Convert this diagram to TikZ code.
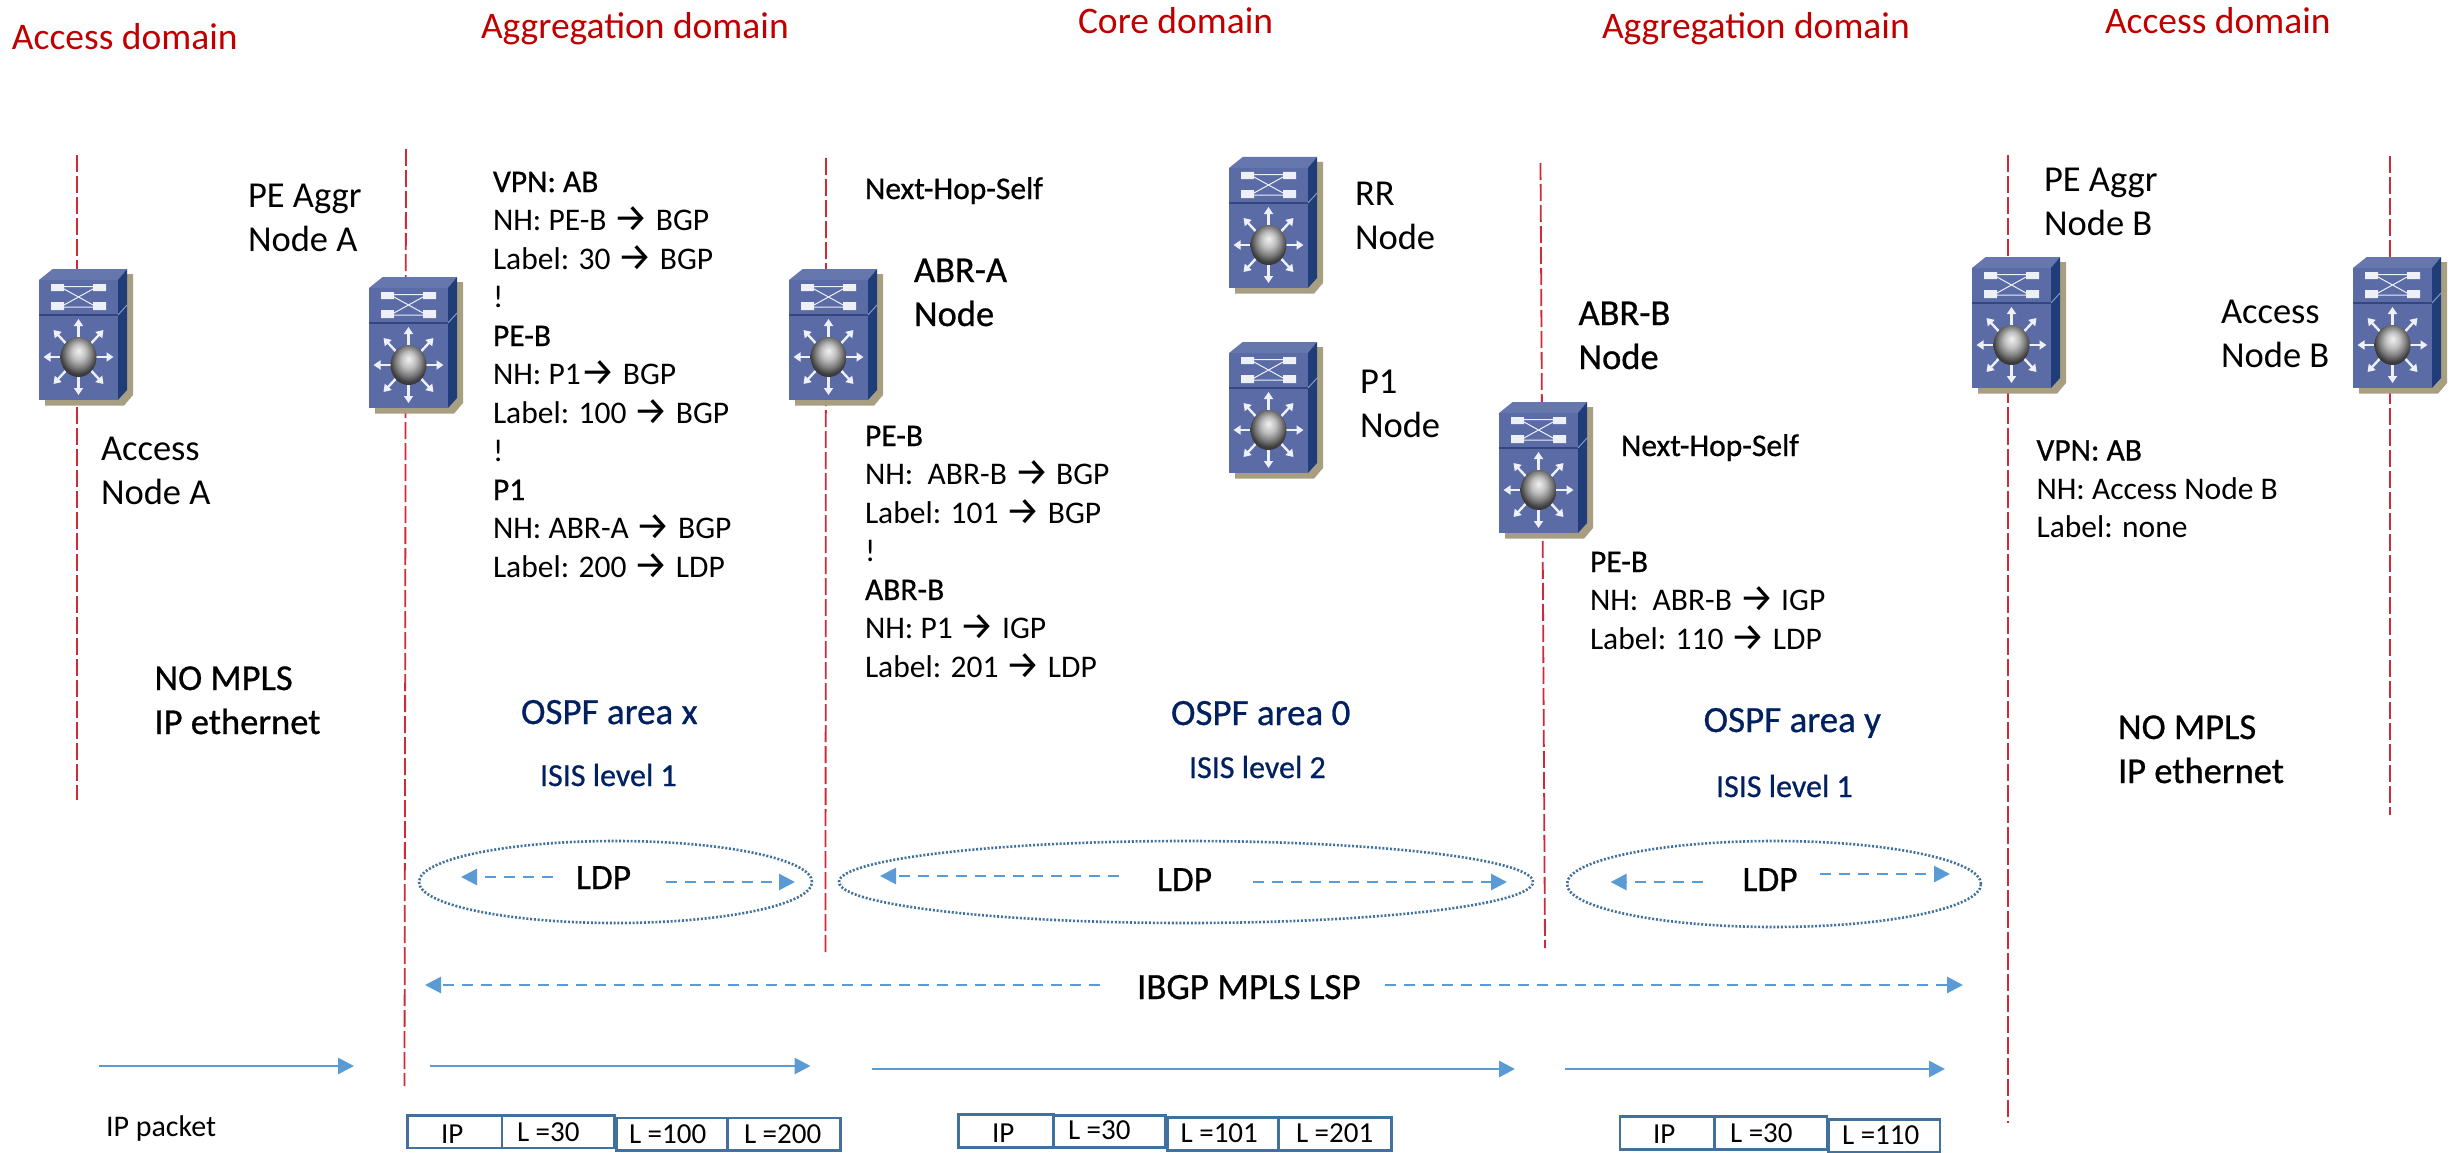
\documentclass[tikz,border=0pt]{standalone}
\usepackage{fontspec}
\setmainfont{Carlito}
\newfontfamily\shfont{Carlito}[FakeBold=0.7]
\newfontfamily\arrf{Fira Sans}
\usetikzlibrary{arrows.meta,shapes.geometric}
\definecolor{redline}{HTML}{CF2A3A}
\definecolor{headred}{HTML}{C00000}
\definecolor{navy}{HTML}{002060}
\definecolor{flow}{HTML}{5B9BD5}
\definecolor{boxblue}{HTML}{41719C}
\definecolor{rfront}{HTML}{5A6BA6}
\definecolor{rtop}{HTML}{6677AE}
\definecolor{rside}{HTML}{1F3D78}
\definecolor{rshadow}{HTML}{A89F82}
\definecolor{rdiv}{HTML}{35467F}
\definecolor{rwhite}{HTML}{EEF0F8}
\pgfdeclareradialshading{rball}{\pgfpoint{0bp}{8bp}}{
  color(0bp)=(white!95!black);
  color(10bp)=(white!75!black);
  color(18bp)=(white!50!black);
  color(25bp)=(black!75);
  color(32bp)=(black!85);
  color(50bp)=(black!85)}
\newcommand{\arr}{\raisebox{-1.2pt}{\arrf\fontsize{39}{39}\selectfont\char"2192}}
\tikzset{
  txt/.style={anchor=base west,inner sep=0pt,outer sep=0pt},
  big/.style={txt,align=left,font=\fontsize{36.5}{44}\selectfont},
  bigsh/.style={txt,align=left,font=\shfont\fontsize{36.5}{44}\selectfont},
  block/.style={txt,align=left,font=\fontsize{31.5}{38.5}\selectfont},
  shline/.style={txt,font=\shfont\fontsize{31.5}{38}\selectfont},
  head/.style={txt,text=headred,font=\fontsize{37.5}{44}\selectfont},
  ospf/.style={txt,text=navy,font=\shfont\fontsize{37}{44}\selectfont},
  isis/.style={txt,text=navy,font=\shfont\fontsize{32}{40}\selectfont},
  pkt/.style={txt,font=\fontsize{29}{35}\selectfont},
  redlane/.style={draw=redline,line width=1.8pt,dash pattern=on 17pt off 4pt},
  oval/.style={draw=boxblue,line width=2.6pt,dash pattern=on 2pt off 1.8pt},
  solidflow/.style={draw=flow,line width=2.8pt,-{Triangle[length=16pt,width=16pt]}},
  dashflow/.style={draw=flow,line width=2.8pt,dash pattern=on 11pt off 8pt,-{Triangle[length=16pt,width=16pt]}},
  pktbox/.style={draw=boxblue,line width=2.6pt,rectangle,inner sep=0pt,anchor=north west},
  rarrow/.style={draw=rwhite,line width=2.4pt,-{Triangle[length=7pt,width=9pt]}}
}
\newcommand{\lane}[4]{\coordinate (#1s) at (#2,#3);\coordinate (#1e) at (#2,#4);\draw[redlane] (#1s) -- (#1e);}
\newcommand{\lanex}[5]{\coordinate (#1s) at (#2,#3);\coordinate (#1e) at (#4,#5);\draw[redlane] (#1s) -- (#1e);}
\newcommand{\flowarrow}[6]{\coordinate (#2s) at (#3,#4);\coordinate (#2e) at (#5,#6);\draw[#1] (#2s) -- (#2e);}
\newcommand{\pbox}[8]{\node[pktbox,minimum width=#4pt-#2pt,minimum height=#5pt-#3pt] (#1) at (#2,#3) {};\node[pkt] (#1t) at (#7,#8) {#6};}
\newcommand{\router}[3]{%
\begin{scope}[shift={(#2,#3)}]
  \fill[rshadow] (6,120) -- (6,136.7) -- (85,136.7) -- (94,126) -- (94,5) -- (80,5) -- cycle;
  \fill[rtop] (0,11) -- (13.7,0) -- (88,0) -- (79,11) -- cycle;
  \fill[rside] (79,11) -- (88,0) -- (88,121) -- (79,131) -- cycle;
  \fill[rfront] (0,11) rectangle (79,131);
  \draw[rdiv,line width=1.6pt] (0,46) -- (79,46);
  \draw[rfront!70!white,line width=1pt] (79,46) -- (88,36);
  \fill[rwhite] (12,15) rectangle (25,22) (54,15) rectangle (67,22) (12,33) rectangle (25,41) (54,33) rectangle (67,41);
  \draw[rwhite,line width=1pt] (25,17.5) -- (54,17.5) (25,38) -- (54,38) (25,20) -- (54,36) (25,36) -- (54,20);
  \foreach \dx/\dy in {0/-38,0/38,-35/0,35/0,-25/-27,25/-27,-25/27,25/27}{
    \draw[rarrow] (39.5+0.4*\dx,88+0.4*\dy) -- (39.5+\dx,88+\dy);
  }
  \shade[shading=rball] (39.5,88) ellipse [x radius=18,y radius=20];
  \node[inner sep=0pt,minimum width=88pt,minimum height=131pt] (#1) at (44,65.5) {};
\end{scope}}
\begin{document}
\begin{tikzpicture}[x=1pt,y=-1pt]
\useasboundingbox (0,0) rectangle (2458,1153);
\fill[white] (0,0) rectangle (2458,1153);
% lanes
\lane{la}{77}{155}{800}
\lanex{lb}{406}{149}{404.5}{1086}
\lanex{lc}{826}{158}{825.5}{956}
\lanex{ld}{1540.5}{163}{1545}{948}
\lane{le}{2008}{155}{1123}
\lane{lf}{2390}{156}{815}
% headings
\node[head] (h1) at (12,50) {Access domain};
\node[head] (h2) at (481,39) {Aggregation domain};
\node[head] (h3) at (1078,34) {Core domain};
\node[head] (h4) at (1602,39) {Aggregation domain};
\node[head] (h5) at (2105,34) {Access domain};
% routers
\router{accA}{39}{269}
\router{peA}{369}{277}
\router{abrA}{789}{269}
\router{rr}{1229}{157}
\router{pone}{1229}{342}
\router{abrB}{1499}{402}
\router{peB}{1972}{257}
\router{accB}{2353}{257}
% node labels
\node[big] (tpeA) at (248,251) {PE Aggr\\Node A};
\node[big] (taccA) at (101,504) {Access\\Node A};
\node[bigsh] (tabrA) at (914,326) {ABR-A\\Node};
\node[big] (trr) at (1355,249) {RR\\Node};
\node[big] (tpone) at (1360,437.5) {P1\\Node};
\node[bigsh] (tabrB) at (1578.5,369) {ABR-B\\Node};
\node[big] (tpeB) at (2044,235) {PE Aggr\\Node B};
\node[big] (taccB) at (2221,367) {Access\\Node B};
\node[shline] (nhsA) at (865,199) {Next-Hop-Self};
\node[shline] (nhsB) at (1621,456) {Next-Hop-Self};
% blocks
\node[block] (bA) at (493,577) {{\shfont VPN: AB}\\NH: PE-B \arr{} BGP\\Label: 30 \arr{} BGP\\!\\{\shfont PE-B}\\NH: P1\arr{} BGP\\Label: 100 \arr{} BGP\\!\\{\shfont P1}\\NH: ABR-A \arr{} BGP\\Label: 200 \arr{} LDP};
\node[block] (bB) at (865,677) {{\shfont PE-B}\\NH:\ \ ABR-B \arr{} BGP\\Label: 101 \arr{} BGP\\!\\{\shfont ABR-B}\\NH: P1 \arr{} IGP\\Label: 201 \arr{} LDP};
\node[block] (bC) at (1590,649) {{\shfont PE-B}\\NH:\ \ ABR-B \arr{} IGP\\Label: 110 \arr{} LDP};
\node[block] (bD) at (2036.5,537.5) {{\shfont VPN: AB}\\NH: Access Node B\\Label: none};
% domain notes
\node[bigsh] (nmA) at (154.5,734) {NO MPLS\\IP ethernet};
\node[bigsh] (nmB) at (2118,783) {NO MPLS\\IP ethernet};
\node[ospf] (ox) at (521,724) {OSPF area x};
\node[isis] (ix) at (540,786) {ISIS level 1};
\node[ospf] (oz) at (1171,725) {OSPF area 0};
\node[isis] (iz) at (1189,778) {ISIS level 2};
\node[ospf] (oy) at (1703.6,732) {OSPF area y};
\node[isis] (iy) at (1716,797) {ISIS level 1};
% LDP ovals
\node[ellipse,oval,inner sep=0pt,minimum width=393pt,minimum height=82pt] (e1) at (615.5,882) {};
\node[ellipse,oval,inner sep=0pt,minimum width=694pt,minimum height=82pt] (e2) at (1186,882) {};
\node[ellipse,oval,inner sep=0pt,minimum width=414pt,minimum height=86pt] (e3) at (1774,884) {};
\node[bigsh,font=\shfont\fontsize{35.5}{43}\selectfont] (l1) at (576,889) {LDP};
\node[bigsh,font=\shfont\fontsize{35.5}{43}\selectfont] (l2) at (1157,891) {LDP};
\node[bigsh,font=\shfont\fontsize{35.5}{43}\selectfont] (l3) at (1742.5,891) {LDP};
\flowarrow{dashflow}{a1}{553}{877}{461}{877}
\flowarrow{dashflow}{a2}{666}{882}{795}{882}
\flowarrow{dashflow}{a3}{1119}{876}{880}{876}
\flowarrow{dashflow}{a4}{1253}{882}{1507}{882}
\flowarrow{dashflow}{a5}{1703}{882}{1610.6}{882}
\flowarrow{dashflow}{a6}{1820}{874}{1950}{874}
% IBGP
\node[bigsh,font=\shfont\fontsize{37}{44}\selectfont] (ibgp) at (1137,999) {IBGP MPLS LSP};
\flowarrow{dashflow}{a7}{1100}{985}{425}{985}
\flowarrow{dashflow}{a8}{1385}{985}{1963}{985}
% solid flows
\flowarrow{solidflow}{s1}{99}{1066}{354}{1066}
\flowarrow{solidflow}{s2}{430}{1066}{810.5}{1066}
\flowarrow{solidflow}{s3}{871.5}{1069}{1515}{1069}
\flowarrow{solidflow}{s4}{1565}{1069}{1945}{1069}
% packets
\node[txt,font=\fontsize{30}{36}\selectfont] (ippk) at (106,1136) {IP packet};
\pbox{p1}{406.4}{1114}{500.6}{1146.7}{IP}{441}{1143}
\pbox{p2}{500.6}{1114}{613}{1146.7}{L =30}{517}{1141}
\pbox{p3}{615}{1116.7}{726}{1149}{L =100}{629}{1143}
\pbox{p4}{726}{1116.7}{839}{1149}{L =200}{744}{1143}
\pbox{q1}{957}{1113}{1052}{1146}{IP}{992}{1142}
\pbox{q2}{1052}{1114}{1164}{1146}{L =30}{1068}{1139}
\pbox{q3}{1166}{1116}{1277}{1149}{L =101}{1180.6}{1142}
\pbox{q4}{1277}{1116}{1390}{1149}{L =201}{1296}{1142}
\pbox{r1}{1618.5}{1115}{1713}{1148}{IP}{1653}{1143}
\pbox{r2}{1713}{1115}{1825.6}{1148}{L =30}{1730}{1142}
\pbox{r3}{1827}{1118}{1938.6}{1151}{L =110}{1842}{1144}
\end{tikzpicture}
\end{document}
